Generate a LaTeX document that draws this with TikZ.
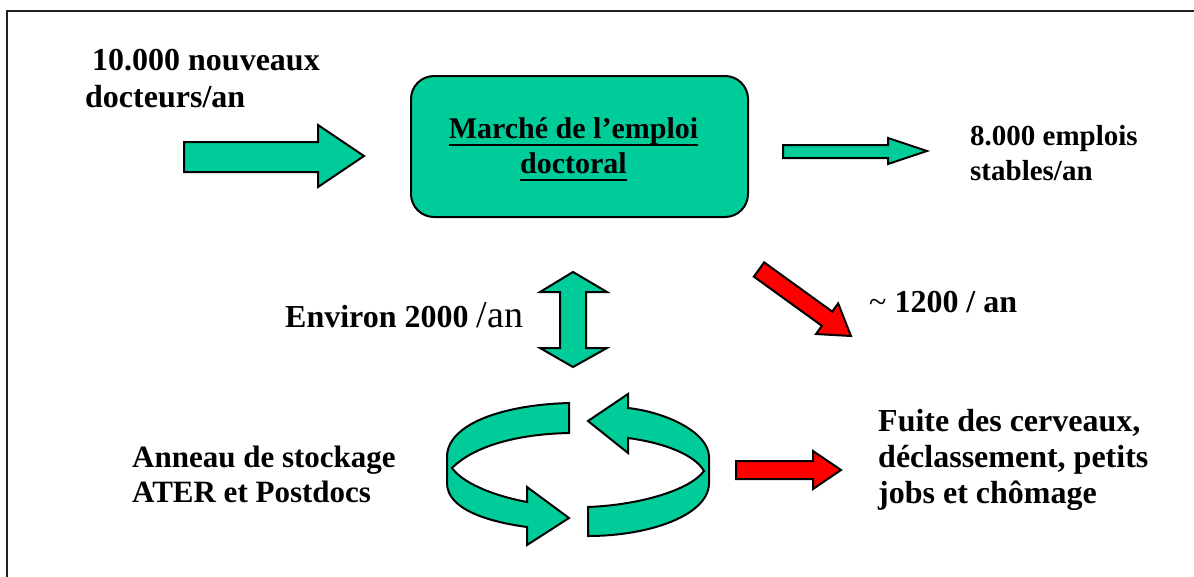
\documentclass[tikz,border=0pt]{standalone}
\usepackage{fontspec}
\setmainfont{Liberation Serif}
\definecolor{grn}{HTML}{00CC99}
\definecolor{rd}{HTML}{FF0000}
\definecolor{frame}{HTML}{202020}
\begin{document}
\begin{tikzpicture}[x=1pt,y=-1pt,
  blk/.style={draw=black,line width=2pt,line join=miter,miter limit=4},
  gblk/.style={blk,fill=grn},
  rblk/.style={blk,fill=rd},
  lbl/.style={anchor=base west,inner sep=0pt,font=\fontsize{#1}{36}\selectfont\bfseries},
  lbl/.default=30,
  clbl/.style={lbl,anchor=base},
  uline/.style={line width=2pt}]
\useasboundingbox (0,0) rectangle (1194,576);
% frame (only top and left sides visible)
\draw[frame,line width=2.5pt] (7,590) -- (7,11) -- (1210,11);

% labels
\node[lbl=32] (t1a) at (92,70) {10.000 nouveaux};
\node[lbl=32] (t1b) at (85,107) {docteurs/an};
\node[lbl=29] (s1) at (970,145) {8.000 emplois};
\node[lbl=29] (s2) at (970,180) {stables/an};
\node[lbl=32] (e1) at (285,327) {Environ 2000 {\mdseries\fontsize{38}{40}\selectfont/an}};
\node[lbl=32] (r1) at (869,312) {{\mdseries\textasciitilde} 1200 / an};
\node[lbl=31] (a1) at (132,467) {Anneau de stockage};
\node[lbl=31] (a2) at (132,502) {ATER et Postdocs};
\node[lbl=32] (f1) at (878,431) {Fuite des cerveaux,};
\node[lbl=32] (f2) at (878,467) {déclassement, petits};
\node[lbl=32] (f3) at (878,503) {jobs et chômage};

% market box
\draw[gblk,rounded corners=23pt] (411,76) rectangle (748,217);
\node[clbl] (m1) at (573.5,138) {Marché de l’emploi};
\node[clbl] (m2) at (573.5,173) {doctoral};
\draw[uline] ([yshift=-7pt]m1.base west) -- ([yshift=-7pt]m1.base east);
\draw[uline] ([yshift=-7pt]m2.base west) -- ([yshift=-7pt]m2.base east);

% input arrow
\draw[gblk] (184,142) -- (318,142) -- (318,125) -- (364,156) -- (318,187) -- (318,172) -- (184,172) -- cycle;
% output arrow (stable jobs)
\draw[gblk] (783,145) -- (888,145) -- (888,138) -- (927,151) -- (888,164) -- (888,158) -- (783,158) -- cycle;
% double arrow
\draw[gblk] (573,272) -- (607,292) -- (586,292) -- (586,348) -- (607,348) -- (573,367)
  -- (540,348) -- (560,348) -- (560,292) -- (540,292) -- cycle;
% red diagonal arrow
\begin{scope}[shift={(759,269.5)},rotate=-35.86]
\draw[rblk] (0,-8.8) -- (84,-8.8) -- (84,-18.9) -- (113.5,0) -- (84,18.9) -- (84,8.8) -- (0,8.8) -- cycle;
\end{scope}
% red horizontal arrow
\draw[rblk] (736,461) -- (813,461) -- (813,451) -- (841,470) -- (813,489) -- (813,479) -- (736,479) -- cycle;

% circular arrows (storage ring)
\draw[gblk] (569,403) .. controls (500,405) and (447,425) .. (447,457) -- (447,483)
  .. controls (447,510) and (490,522) .. (527,527) -- (527,545) -- (569,518) -- (527,487) -- (527,502)
  .. controls (490,495) and (462,482) .. (452,468)
  .. controls (475,445) and (520,434) .. (569,433) -- cycle;
\draw[gblk] (588,536) .. controls (650,536) and (709,515) .. (709,483) -- (709,457)
  .. controls (709,432) and (665,412) .. (628,408) -- (628,394) -- (588,421) -- (628,453) -- (628,438)
  .. controls (665,443) and (695,455) .. (704,471)
  .. controls (690,490) and (640,505) .. (588,507) -- cycle;
\end{tikzpicture}
\end{document}
